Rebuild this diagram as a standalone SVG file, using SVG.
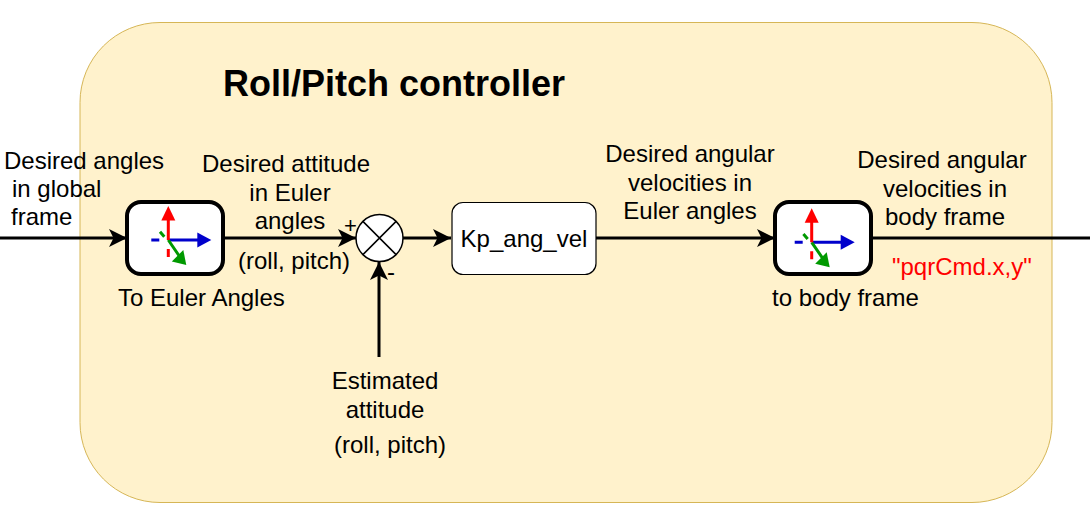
<svg xmlns="http://www.w3.org/2000/svg" width="1090" height="515" viewBox="0 0 1090 515">
<defs>
<marker id="ah" markerUnits="userSpaceOnUse" markerWidth="20" markerHeight="22" refX="18" refY="11" orient="auto"><path d="M0,2 L18,11 L0,20 L4.500,11 Z" fill="#000"/></marker>
<g id="axes">
<path d="M-17,0 H-9 M0,0 H31" stroke="#0000cc" stroke-width="3" fill="none"/>
<path d="M29,-7.500 L43,0 L29,7.500 Z" fill="#0000cc"/>
<path d="M-8.300,-8.300 L-4,-3.300 M0,0 L11,16" stroke="#009900" stroke-width="3" fill="none"/>
<path d="M3.500,21.500 L15,10 L18,25 Z" fill="#009900"/>
<path d="M0,9 V17 M0,0 V-21" stroke="#ff0000" stroke-width="3" fill="none"/>
<path d="M-7,-19.500 L0,-34 L7,-19.500 Z" fill="#ff0000"/>
</g>
</defs>
<style>
text{font-family:"Liberation Sans",Arial,sans-serif;font-size:24px;fill:#000}
.c{text-anchor:middle}
.w{stroke:#000;stroke-width:3;fill:none}
</style>
<g id="container"><rect x="80" y="22.500" width="972" height="480" rx="80" ry="80" fill="#fff2cc" stroke="#d6b656"/>
<text x="223" y="96" style="font-size:36px;font-weight:bold">Roll/Pitch controller</text></g>
<g id="connectors">
<path class="w" d="M0,238 H127" marker-end="url(#ah)"/>
<path class="w" d="M223,238 H356" marker-end="url(#ah)"/>
<path class="w" d="M403,238 H451" marker-end="url(#ah)"/>
<path class="w" d="M596,238 H775" marker-end="url(#ah)"/>
<path class="w" d="M872,238 H1090"/>
<path class="w" d="M379,357 V262" marker-end="url(#ah)"/>
</g>
<g id="to-euler"><rect x="127" y="202" width="96" height="72" rx="14" ry="14" fill="#fff" stroke="#000" stroke-width="4"/><use href="#axes" x="168.300" y="240"/></g>
<g id="sum"><circle cx="379.500" cy="238" r="23.500" fill="#fff" stroke="#000" stroke-width="1.500"/><path d="M362.900,221.400 L396.100,254.600 M396.100,221.400 L362.900,254.600" stroke="#000" stroke-width="1.500" fill="none"/></g>
<g id="kp"><rect x="452" y="202.500" width="144" height="72" rx="11" ry="11" fill="#fff" stroke="#000" stroke-width="1.200"/><text class="c" x="524" y="247">Kp_ang_vel</text></g>
<g id="to-body"><rect x="775" y="202" width="96" height="72" rx="14" ry="14" fill="#fff" stroke="#000" stroke-width="4"/><use href="#axes" x="811.700" y="242.300"/></g>
<g id="labels">
<text x="4" y="169">Desired angles</text>
<text x="12" y="197">in global</text>
<text x="11" y="225">frame</text>
<text class="c" x="286" y="172">Desired attitude</text>
<text class="c" x="290" y="201">in Euler</text>
<text class="c" x="290" y="229">angles</text>
<text class="c" x="294" y="269">(roll, pitch)</text>
<text x="118" y="306">To Euler Angles</text>
<text x="344" y="233" style="font-size:22px">+</text>
<text x="387" y="280">-</text>
<text class="c" x="385" y="389">Estimated</text>
<text class="c" x="385" y="418">attitude</text>
<text class="c" x="390" y="453">(roll, pitch)</text>
<text class="c" x="690" y="162">Desired angular</text>
<text class="c" x="690" y="191">velocities in</text>
<text class="c" x="690" y="219">Euler angles</text>
<text class="c" x="942" y="168">Desired angular</text>
<text class="c" x="945" y="197">velocities in</text>
<text class="c" x="945" y="225">body frame</text>
<text x="772" y="306">to body frame</text>
<text x="892" y="275" style="fill:#ff0000">"pqrCmd.x,y"</text>
</g>
</svg>
